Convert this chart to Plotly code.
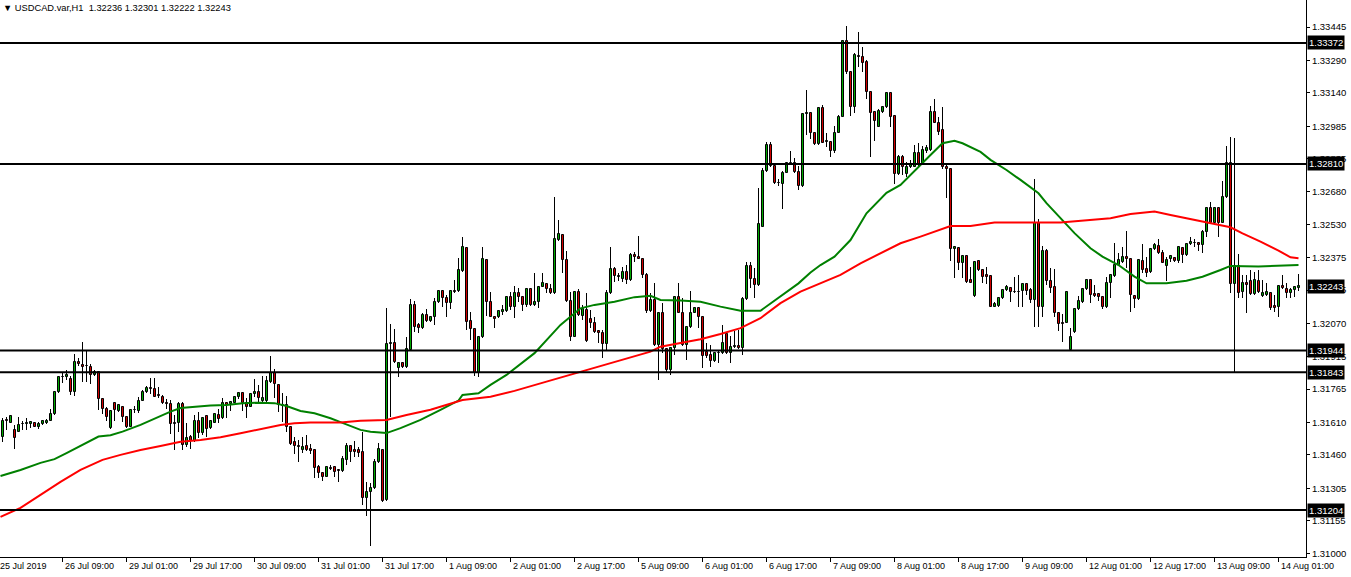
import plotly.graph_objects as go

# ---------------- data ----------------
bar_index = list(range(1, 326))

opens = [
1.31542,1.31622,1.31610,1.31576,1.31568,1.31605,1.31602,1.31602,1.31607,1.31591,
1.31604,1.31610,1.31619,1.31649,1.31754,1.31823,1.31820,1.31814,1.31752,1.31890,
1.31879,1.31873,1.31867,1.31831,1.31844,1.31718,1.31672,1.31584,1.31702,1.31665,
1.31684,1.31637,1.31591,1.31669,1.31665,1.31712,1.31754,1.31769,1.31766,1.31738,
1.31730,1.31699,1.31695,1.31608,1.31607,1.31695,1.31505,1.31542,1.31526,1.31618,
1.31561,1.31640,1.31584,1.31610,1.31645,1.31630,1.31702,1.31696,1.31702,1.31727,
1.31746,1.31700,1.31684,1.31741,1.31751,1.31712,1.31712,1.31800,1.31842,1.31785,
1.31692,1.31692,1.31588,1.31519,1.31503,1.31481,1.31501,1.31487,1.31483,1.31403,
1.31375,1.31359,1.31399,1.31403,1.31390,1.31387,1.31437,1.31501,1.31483,1.31483,
1.31475,1.31259,1.31287,1.31305,1.31426,1.31483,1.31251,1.31976,1.31978,1.31862,
1.31885,1.31867,1.31947,1.32156,1.32063,1.32048,1.32109,1.32083,1.32102,1.32168,
1.32221,1.32187,1.32164,1.32221,1.32222,1.32315,1.32419,1.32083,1.32044,1.31842,
1.32006,1.32365,1.32171,1.32102,1.32099,1.32125,1.32129,1.32191,1.32148,1.32210,
1.32191,1.32156,1.32229,1.32156,1.32171,1.32241,1.32252,1.32229,1.32210,1.32457,
1.32481,1.32365,1.32176,1.32009,1.32218,1.32105,1.32133,1.32090,1.32071,1.32035,
1.32027,1.31975,1.32210,1.32321,1.32285,1.32275,1.32310,1.32272,1.32388,1.32377,
1.32368,1.32295,1.32129,1.32179,1.31971,1.32120,1.31950,1.31854,1.31955,1.32191,
1.32120,1.31971,1.32052,1.32120,1.32140,1.32099,1.31939,1.31924,1.31897,1.31932,
1.31932,1.32021,1.31932,1.31962,1.31966,1.31955,1.32182,1.32337,1.32275,1.32249,
1.32519,1.32779,1.32898,1.32801,1.32723,1.32717,1.32770,1.32813,1.32813,1.32774,
1.32708,1.33042,1.33048,1.32952,1.32903,1.33068,1.32914,1.32914,1.32872,1.32955,
1.33029,1.33382,1.33238,1.33076,1.33313,1.33305,1.33285,1.33146,1.33053,1.32983,
1.33053,1.33073,1.33141,1.33033,1.32764,1.32841,1.32764,1.32795,1.32798,1.32860,
1.32810,1.32872,1.32875,1.33053,1.33002,1.32968,1.32798,1.32785,1.32414,1.32419,
1.32352,1.32383,1.32272,1.32198,1.32361,1.32318,1.32295,1.32290,1.32148,1.32151,
1.32187,1.32225,1.32233,1.32218,1.32215,1.32222,1.32253,1.32225,1.32179,1.32538,
1.32148,1.32408,1.32269,1.32238,1.32117,1.32071,1.32074,1.31947,1.32032,1.32136,
1.32171,1.32229,1.32272,1.32207,1.32207,1.32194,1.32145,1.32256,1.32290,1.32341,
1.32357,1.32377,1.32368,1.32198,1.32182,1.32360,1.32321,1.32310,1.32414,1.32430,
1.32396,1.32337,1.32371,1.32374,1.32361,1.32419,1.32388,1.32439,1.32443,1.32445,
1.32434,1.32496,1.32604,1.32538,1.32604,1.32538,1.32656,1.32816,1.32253,1.32337,
1.32218,1.32259,1.32265,1.32207,1.32269,1.32198,1.32202,1.32213,1.32151,1.32148,
1.32244,1.32229,1.32210,1.32225,1.32236]

highs = [
1.31630,1.31634,1.31644,1.31599,1.31635,1.31615,1.31630,1.31619,1.31610,1.31613,
1.31622,1.31626,1.31672,1.31758,1.31823,1.31845,1.31854,1.31826,1.31928,1.31908,
1.31986,1.31940,1.31882,1.31854,1.31849,1.31723,1.31681,1.31669,1.31707,1.31693,
1.31687,1.31640,1.31672,1.31687,1.31727,1.31762,1.31780,1.31818,1.31818,1.31777,
1.31738,1.31720,1.31715,1.31645,1.31707,1.31707,1.31607,1.31553,1.31645,1.31661,
1.31633,1.31645,1.31618,1.31653,1.31672,1.31723,1.31707,1.31712,1.31730,1.31754,
1.31749,1.31723,1.31749,1.31813,1.31785,1.31826,1.31826,1.31919,1.31859,1.31788,
1.31746,1.31733,1.31591,1.31542,1.31529,1.31542,1.31553,1.31510,1.31486,1.31413,
1.31378,1.31406,1.31413,1.31406,1.31393,1.31455,1.31514,1.31506,1.31526,1.31498,
1.31568,1.31336,1.31331,1.31440,1.31514,1.31486,1.32140,1.32066,1.32043,1.31888,
1.31888,1.32006,1.32182,1.32176,1.32071,1.32117,1.32136,1.32105,1.32187,1.32225,
1.32225,1.32202,1.32225,1.32272,1.32372,1.32470,1.32424,1.32125,1.32047,1.32009,
1.32424,1.32368,1.32218,1.32105,1.32133,1.32156,1.32197,1.32218,1.32244,1.32233,
1.32197,1.32233,1.32233,1.32303,1.32244,1.32303,1.32256,1.32253,1.32656,1.32550,
1.32485,1.32408,1.32218,1.32222,1.32229,1.32156,1.32210,1.32133,1.32102,1.32040,
1.32040,1.32225,1.32426,1.32333,1.32303,1.32331,1.32341,1.32396,1.32403,1.32476,
1.32373,1.32303,1.32213,1.32259,1.32125,1.32164,1.31955,1.31962,1.32194,1.32256,
1.32187,1.32055,1.32222,1.32148,1.32148,1.32102,1.31978,1.31970,1.31934,1.31947,
1.32063,1.32032,1.32012,1.32037,1.32040,1.32191,1.32357,1.32357,1.32326,1.32697,
1.32791,1.32913,1.32913,1.32805,1.32739,1.32779,1.32816,1.32872,1.32836,1.32801,
1.33048,1.33153,1.33053,1.32955,1.33073,1.33084,1.32955,1.32918,1.32986,1.33037,
1.33385,1.33450,1.33243,1.33324,1.33424,1.33354,1.33293,1.33150,1.33057,1.33064,
1.33079,1.33146,1.33146,1.33037,1.32852,1.32852,1.32821,1.32829,1.32898,1.32906,
1.32894,1.32898,1.33079,1.33110,1.33029,1.33073,1.32813,1.32790,1.32430,1.32426,
1.32388,1.32388,1.32333,1.32361,1.32365,1.32321,1.32331,1.32294,1.32171,1.32191,
1.32229,1.32249,1.32241,1.32287,1.32295,1.32256,1.32256,1.32233,1.32739,1.32553,
1.32430,1.32414,1.32326,1.32321,1.32120,1.32114,1.32222,1.32048,1.32140,1.32197,
1.32233,1.32278,1.32275,1.32249,1.32210,1.32198,1.32287,1.32300,1.32445,1.32396,
1.32424,1.32501,1.32373,1.32202,1.32368,1.32439,1.32377,1.32419,1.32442,1.32461,
1.32411,1.32380,1.32388,1.32380,1.32426,1.32426,1.32442,1.32470,1.32461,1.32450,
1.32504,1.32609,1.32635,1.32609,1.32609,1.32733,1.32894,1.32934,1.32929,1.32392,
1.32295,1.32295,1.32318,1.32310,1.32318,1.32272,1.32256,1.32218,1.32202,1.32249,
1.32295,1.32256,1.32233,1.32244,1.32301]

lows = [
1.31522,1.31576,1.31607,1.31486,1.31568,1.31576,1.31576,1.31584,1.31588,1.31579,
1.31599,1.31604,1.31616,1.31644,1.31749,1.31794,1.31808,1.31738,1.31733,1.31873,
1.31800,1.31800,1.31789,1.31826,1.31669,1.31650,1.31619,1.31581,1.31619,1.31661,
1.31614,1.31584,1.31588,1.31656,1.31656,1.31709,1.31746,1.31743,1.31727,1.31723,
1.31696,1.31673,1.31557,1.31483,1.31568,1.31483,1.31498,1.31489,1.31522,1.31537,
1.31553,1.31542,1.31581,1.31607,1.31607,1.31626,1.31630,1.31665,1.31700,1.31718,
1.31665,1.31630,1.31681,1.31730,1.31707,1.31702,1.31707,1.31795,1.31723,1.31661,
1.31614,1.31568,1.31506,1.31463,1.31429,1.31471,1.31479,1.31464,1.31352,1.31352,
1.31341,1.31356,1.31390,1.31359,1.31336,1.31382,1.31413,1.31429,1.31452,1.31452,
1.31228,1.31177,1.31038,1.31302,1.31421,1.31243,1.31248,1.31638,1.31885,1.31820,
1.31862,1.31862,1.31944,1.32032,1.32024,1.32043,1.32078,1.32078,1.32063,1.32164,
1.32148,1.32099,1.32136,1.32210,1.32218,1.32310,1.32040,1.31993,1.31826,1.31820,
1.32001,1.32105,1.32099,1.32048,1.32094,1.32109,1.32125,1.32133,1.32094,1.32171,
1.32129,1.32148,1.32151,1.32151,1.32140,1.32238,1.32213,1.32207,1.32207,1.32454,
1.32303,1.32171,1.31990,1.32006,1.32105,1.32086,1.31986,1.32048,1.32027,1.31977,
1.31908,1.31947,1.32207,1.32264,1.32268,1.32264,1.32253,1.32268,1.32357,1.32368,
1.32280,1.32120,1.32125,1.31963,1.31808,1.31932,1.31839,1.31831,1.31924,1.32117,
1.31963,1.31900,1.32048,1.32117,1.32048,1.31862,1.31908,1.31867,1.31893,1.31885,
1.31928,1.31928,1.31885,1.31955,1.31950,1.31924,1.32179,1.32233,1.32187,1.32244,
1.32516,1.32774,1.32795,1.32717,1.32708,1.32600,1.32767,1.32810,1.32770,1.32689,
1.32705,1.32945,1.32925,1.32898,1.32898,1.32906,1.32890,1.32844,1.32860,1.32952,
1.33027,1.33228,1.33033,1.33048,1.33262,1.33238,1.33110,1.32844,1.32918,1.32980,
1.33048,1.33068,1.32980,1.32717,1.32759,1.32759,1.32751,1.32790,1.32795,1.32798,
1.32805,1.32862,1.32872,1.32999,1.32945,1.32785,1.32651,1.32361,1.32280,1.32318,
1.32280,1.32256,1.32256,1.32194,1.32315,1.32259,1.32253,1.32145,1.32145,1.32148,
1.32182,1.32222,1.32171,1.32213,1.32148,1.32145,1.32202,1.32167,1.32052,1.32052,
1.32102,1.32249,1.32210,1.32102,1.32037,1.31985,1.32071,1.31947,1.32027,1.32133,
1.32167,1.32225,1.32167,1.32194,1.32176,1.32136,1.32140,1.32187,1.32287,1.32337,
1.32352,1.32326,1.32125,1.32140,1.32179,1.32306,1.32287,1.32306,1.32411,1.32393,
1.32349,1.32269,1.32357,1.32357,1.32352,1.32352,1.32383,1.32434,1.32426,1.32408,
1.32398,1.32470,1.32532,1.32532,1.32470,1.32535,1.32651,1.32213,1.31846,1.32187,
1.32187,1.32120,1.32202,1.32202,1.32210,1.32194,1.32198,1.32133,1.32125,1.32099,
1.32229,1.32187,1.32187,1.32194,1.32222]

closes = [
1.31619,1.31616,1.31641,1.31537,1.31598,1.31604,1.31610,1.31613,1.31591,1.31602,
1.31619,1.31619,1.31649,1.31752,1.31820,1.31822,1.31831,1.31752,1.31890,1.31881,
1.31870,1.31871,1.31831,1.31846,1.31718,1.31672,1.31637,1.31664,1.31669,1.31690,
1.31637,1.31591,1.31669,1.31667,1.31712,1.31754,1.31769,1.31765,1.31730,1.31733,
1.31700,1.31694,1.31602,1.31604,1.31695,1.31505,1.31537,1.31526,1.31618,1.31561,
1.31630,1.31579,1.31615,1.31650,1.31627,1.31700,1.31692,1.31707,1.31727,1.31749,
1.31700,1.31684,1.31743,1.31754,1.31723,1.31723,1.31803,1.31842,1.31788,1.31692,
1.31687,1.31588,1.31511,1.31503,1.31498,1.31498,1.31483,1.31479,1.31401,1.31375,
1.31359,1.31403,1.31395,1.31382,1.31387,1.31440,1.31501,1.31475,1.31475,1.31471,
1.31259,1.31287,1.31305,1.31426,1.31486,1.31248,1.31973,1.31980,1.31890,1.31885,
1.31867,1.31950,1.32156,1.32055,1.32048,1.32109,1.32083,1.32099,1.32171,1.32221,
1.32187,1.32164,1.32221,1.32218,1.32318,1.32424,1.32078,1.32044,1.31842,1.32006,
1.32368,1.32171,1.32102,1.32090,1.32129,1.32133,1.32191,1.32148,1.32210,1.32191,
1.32156,1.32229,1.32156,1.32171,1.32241,1.32256,1.32229,1.32210,1.32461,1.32485,
1.32365,1.32176,1.32009,1.32218,1.32109,1.32136,1.31990,1.32074,1.32032,1.32024,
1.31975,1.32210,1.32321,1.32290,1.32290,1.32310,1.32272,1.32388,1.32377,1.32371,
1.32295,1.32129,1.32179,1.31971,1.32120,1.31950,1.31854,1.31955,1.32191,1.32120,
1.31971,1.32052,1.32120,1.32140,1.32099,1.31919,1.31919,1.31897,1.31932,1.31933,
1.31978,1.31932,1.31962,1.31966,1.31955,1.32182,1.32337,1.32275,1.32249,1.32532,
1.32779,1.32898,1.32801,1.32723,1.32720,1.32770,1.32813,1.32815,1.32774,1.32708,
1.33042,1.33047,1.32952,1.32903,1.33068,1.32909,1.32916,1.32872,1.32955,1.33029,
1.33382,1.33238,1.33073,1.33316,1.33308,1.33280,1.33146,1.33048,1.33011,1.33057,
1.33073,1.33141,1.33029,1.32764,1.32841,1.32798,1.32798,1.32805,1.32860,1.32810,
1.32875,1.32883,1.33053,1.33002,1.32960,1.32795,1.32785,1.32414,1.32426,1.32352,
1.32383,1.32264,1.32259,1.32357,1.32318,1.32287,1.32287,1.32148,1.32160,1.32187,
1.32225,1.32241,1.32218,1.32215,1.32216,1.32253,1.32222,1.32179,1.32538,1.32148,
1.32408,1.32269,1.32233,1.32117,1.32068,1.32068,1.32218,1.32006,1.32136,1.32174,
1.32229,1.32272,1.32202,1.32198,1.32194,1.32145,1.32256,1.32295,1.32341,1.32365,
1.32377,1.32368,1.32202,1.32182,1.32365,1.32318,1.32306,1.32414,1.32434,1.32396,
1.32352,1.32365,1.32383,1.32361,1.32424,1.32388,1.32439,1.32449,1.32442,1.32434,
1.32496,1.32604,1.32538,1.32604,1.32538,1.32656,1.32816,1.32253,1.32337,1.32213,
1.32259,1.32249,1.32207,1.32272,1.32218,1.32213,1.32218,1.32140,1.32140,1.32244,
1.32233,1.32210,1.32225,1.32238,1.32243]

# moving averages (sampled along the drawn lines)
ma_fast_index = [0.5,5.5,10.5,14,17,21,25,28,31,35.5,40,43,45.5,49,53,57,61,65.5,69,72,
                 75.5,79,83,85.5,90.5,93,97,100.5,105.5,110.5,115,116,120,123,127,134,140.5,145.5,149,154,
                 159,163,165.5,170.5,175.5,180.5,185.5,190.5,195.5,200,203,205.5,209,213,217,222,225.5,230,233,236,
                 239,241,243,245.5,248,252,255.5,260,262,265.5,269,273,276,280,284,287,292,297,301,305.5,
                 308,315,325]
ma_fast = [1.31362,1.31390,1.31423,1.31440,1.31468,1.31506,1.31545,1.31551,1.31568,1.31599,
           1.31635,1.31661,1.31677,1.31684,1.31689,1.31692,1.31700,1.31702,1.31700,1.31687,
           1.31664,1.31653,1.31630,1.31612,1.31576,1.31567,1.31561,1.31584,1.31622,1.31669,
           1.31712,1.31738,1.31746,1.31785,1.31831,1.31932,1.32063,1.32140,1.32156,1.32171,
           1.32192,1.32198,1.32179,1.32176,1.32171,1.32148,1.32129,1.32129,1.32194,1.32256,
           1.32306,1.32341,1.32380,1.32457,1.32581,1.32676,1.32713,1.32798,1.32852,1.32906,
           1.32918,1.32906,1.32888,1.32866,1.32829,1.32782,1.32736,1.32674,1.32628,1.32558,
           1.32489,1.32419,1.32380,1.32341,1.32287,1.32256,1.32256,1.32268,1.32287,1.32318,
           1.32337,1.32334,1.32341]

ma_slow_index = [0.5,5.5,10.5,15.5,20.5,26,30.5,35.5,40.5,45.5,50.5,55.5,60.5,65.5,70.5,74,78,85.5,90.5,97,
                 102,108,113,116,123,129,137,145.5,154,163,165.5,170.5,175.5,180.5,185.5,190.5,195.5,200.5,205.5,210.5,
                 215.5,220.5,225.5,230.5,235.5,238,243,249,265.5,274,278,283,289,293,297,300.5,305.5,308,311,315.5,
                 320,323,325]
ma_slow = [1.31172,1.31214,1.31274,1.31335,1.31390,1.31437,1.31460,1.31483,1.31501,1.31521,
           1.31529,1.31542,1.31560,1.31579,1.31599,1.31607,1.31610,1.31610,1.31618,1.31622,
           1.31645,1.31669,1.31696,1.31715,1.31730,1.31757,1.31800,1.31846,1.31893,1.31939,
           1.31962,1.31978,1.31997,1.32021,1.32048,1.32094,1.32164,1.32218,1.32256,1.32295,
           1.32349,1.32396,1.32442,1.32473,1.32507,1.32522,1.32522,1.32538,1.32538,1.32550,
           1.32558,1.32578,1.32589,1.32573,1.32558,1.32547,1.32527,1.32516,1.32488,1.32450,
           1.32408,1.32377,1.32373]

levels = [1.33372, 1.32810, 1.31944, 1.31843, 1.31204]
last_price = 1.32243

price_ticks = [1.33445,1.33290,1.33140,1.32985,1.32835,1.32680,1.32530,1.32375,1.32225,
               1.32070,1.31915,1.31765,1.31610,1.31460,1.31305,1.31155,1.31000]

time_tick_index = [16,32,48,64,80,96,112,128,144,160,176,192,208,224,240,256,272,288,304,320]
time_tick_text = ["26 Jul 09:00","29 Jul 01:00","29 Jul 17:00","30 Jul 09:00","31 Jul 01:00",
                  "31 Jul 17:00","1 Aug 09:00","2 Aug 01:00","2 Aug 17:00","5 Aug 09:00",
                  "6 Aug 01:00","6 Aug 17:00","7 Aug 09:00","8 Aug 01:00","8 Aug 17:00",
                  "9 Aug 09:00","12 Aug 01:00","12 Aug 17:00","13 Aug 09:00","14 Aug 01:00"]
first_label = "25 Jul 2019"
symbol_text = "USDCAD.var,H1"
ohlc_text = "1.32236 1.32301 1.32222 1.32243"

# ---------------- figure ----------------
FONT = "Liberation Sans"
BULL = "#00A800"
BEAR = "#D00000"

n = len(bar_index)
assert len(opens) == n and len(highs) == n and len(lows) == n and len(closes) == n
assert len(ma_fast) == len(ma_fast_index) and len(ma_slow) == len(ma_slow_index)

fig = go.Figure()

# wicks (drawn as thin bars so that the bodies cover them)
fig.add_trace(go.Bar(x=bar_index, y=[h - l for h, l in zip(highs, lows)], base=lows,
                     width=0.25, marker=dict(color="black", line=dict(width=0)),
                     showlegend=False, hoverinfo="skip"))

def bodies(sel, color):
    xs = [bar_index[i] for i in sel]
    base = [min(opens[i], closes[i]) for i in sel]
    h = [max(abs(closes[i] - opens[i]), 0.000012) for i in sel]
    return go.Bar(x=xs, y=h, base=base, width=0.5,
                  marker=dict(color=color, line=dict(color="black", width=1)),
                  showlegend=False, hoverinfo="skip")

up = [i for i in range(n) if closes[i] >= opens[i]]
dn = [i for i in range(n) if closes[i] < opens[i]]
fig.add_trace(bodies(up, BULL))
fig.add_trace(bodies(dn, BEAR))

fig.add_trace(go.Scatter(x=ma_fast_index, y=ma_fast, mode="lines",
                         line=dict(color="#008000", width=2), showlegend=False, hoverinfo="skip"))
fig.add_trace(go.Scatter(x=ma_slow_index, y=ma_slow, mode="lines",
                         line=dict(color="#FF0000", width=2), showlegend=False, hoverinfo="skip"))

shapes = []
for lv in levels:
    shapes.append(dict(type="line", xref="paper", x0=0, x1=1, yref="y", y0=lv, y1=lv,
                       line=dict(color="black", width=2), layer="above"))

annotations = []
for lv in levels + [last_price]:
    annotations.append(dict(x=1, xref="paper", y=lv, yref="y", xanchor="left", yanchor="middle",
                            xshift=1, text=f"{lv:.5f}", showarrow=False, bgcolor="black",
                            font=dict(family=FONT, size=9.5, color="white"), borderpad=1))
for xi, tx in zip(time_tick_index, time_tick_text):
    annotations.append(dict(x=xi, xref="x", y=0, yref="paper", xanchor="left", yanchor="top",
                            xshift=0, yshift=-2, text=tx, showarrow=False,
                            font=dict(family=FONT, size=9, color="black")))
annotations.append(dict(x=0, xref="paper", y=0, yref="paper", xanchor="left", yanchor="top",
                        xshift=-2, yshift=-2, text=first_label, showarrow=False,
                        font=dict(family=FONT, size=9, color="black")))
annotations.append(dict(x=0, xref="paper", y=1, yref="paper", xanchor="left", yanchor="top",
                        xshift=1, yshift=-1,
                        text="\u25BC " + symbol_text + "\u00A0\u00A0" + ohlc_text, showarrow=False,
                        font=dict(family=FONT, size=9.3, color="black")))

fig.update_layout(
    width=1351, height=577,
    margin=dict(l=0, r=45, t=0, b=20),
    paper_bgcolor="white", plot_bgcolor="white",
    barmode="overlay", bargap=0,
    showlegend=False, hovermode=False,
    shapes=shapes, annotations=annotations,
    xaxis=dict(range=[0.375, 326.875], showgrid=False, zeroline=False, showline=True,
               linecolor="black", linewidth=1, tickmode="array", tickvals=time_tick_index,
               ticks="outside", ticklen=4, tickcolor="black", showticklabels=False),
    yaxis=dict(range=[1.30986, 1.33571], side="right", showgrid=False, zeroline=False,
               showline=True, linecolor="black", linewidth=1, tickmode="array",
               tickvals=price_ticks, ticktext=[f"{v:.5f}" for v in price_ticks],
               ticks="outside", ticklen=3, tickcolor="black",
               tickfont=dict(family=FONT, size=9.5, color="black")),
)

fig.write_html("out.html", config={"displayModeBar": False},
               post_script="document.body.style.margin='0px';document.body.style.padding='0px';")
